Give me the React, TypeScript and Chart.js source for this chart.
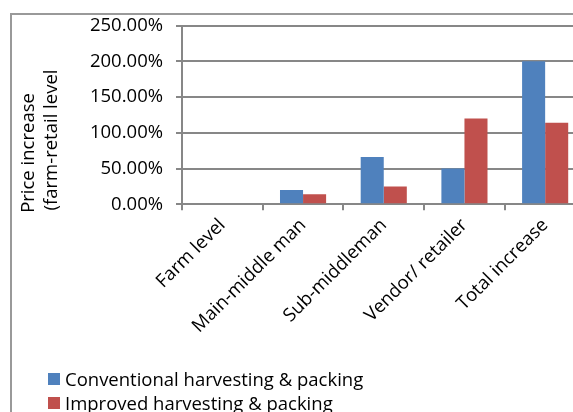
import React, { useEffect, useRef } from "react";
import { Chart, registerables } from "chart.js";

Chart.register(...registerables);

const categories = ["Farm level", "Main-middle man", "Sub-middleman", "Vendor/ retailer", "Total increase"];
const conventional = [0, 20, 66, 50, 200];
const improved = [0, 14, 25, 120, 114];
const seriesNames = ["Conventional harvesting & packing", "Improved harvesting & packing"];
const yTitleLines = ["Price increase", "(farm-retail level"];
const yMin = 0;
const yMax = 250;
const yStep = 50;

const FONT = "'Open Sans', Lato, 'Liberation Sans', sans-serif";
const FONT_SIZE = 18.5;
const BLUE = "#4F81BD";
const RED = "#C0504D";
const GRID = "#878787";
const colors = [BLUE, RED];

const yTitlePlugin = {
  id: "yTitleCustom",
  afterDraw(chart: any) {
    const ctx = chart.ctx;
    ctx.save();
    ctx.font = `${FONT_SIZE}px ${FONT}`;
    ctx.fillStyle = "#000";
    ctx.textAlign = "center";
    ctx.textBaseline = "middle";
    const centers = [
      [29, 153],
      [52, 140],
    ];
    yTitleLines.forEach((line, i) => {
      ctx.save();
      ctx.translate(centers[i][0], centers[i][1]);
      ctx.rotate(-Math.PI / 2);
      ctx.fillText(line, 0, 0);
      ctx.restore();
    });
    ctx.restore();
  },
};

const framePlugin = {
  id: "frameCustom",
  beforeDraw(chart: any) {
    const ctx = chart.ctx;
    ctx.save();
    ctx.strokeStyle = "#999";
    ctx.lineWidth = 2;
    ctx.beginPath();
    ctx.moveTo(11, chart.height + 5);
    ctx.lineTo(11, 14);
    ctx.lineTo(chart.width + 5, 14);
    ctx.stroke();
    ctx.restore();
  },
};

export default function App() {
  const ref = useRef<HTMLCanvasElement | null>(null);

  useEffect(() => {
    const prevOverflow = document.body.style.overflow;
    document.body.style.overflow = "hidden";
    if (!ref.current) return;
    const chart = new Chart(ref.current, {
      type: "bar",
      data: {
        labels: categories,
        datasets: [
          {
            label: seriesNames[0],
            data: conventional,
            backgroundColor: BLUE,
            categoryPercentage: 2 / 3.5,
            barPercentage: 1,
          },
          {
            label: seriesNames[1],
            data: improved,
            backgroundColor: RED,
            categoryPercentage: 2 / 3.5,
            barPercentage: 1,
          },
        ],
      },
      options: {
        responsive: false,
        animation: false,
        devicePixelRatio: 1,
        layout: { padding: { left: 0, top: 25.5, right: 14.5, bottom: 0 } },
        plugins: {
          legend: { display: false },
          tooltip: { enabled: false },
        },
        scales: {
          x: {
            grid: {
              offset: true,
              drawOnChartArea: false,
              drawTicks: true,
              tickLength: 6,
              color: GRID,
              lineWidth: 2,
            },
            border: { color: GRID, width: 2 },
            ticks: {
              autoSkip: false,
              minRotation: 45,
              maxRotation: 45,
              padding: 4,
              color: "#000",
              font: { family: FONT, size: FONT_SIZE },
            },
            afterFit: (s: any) => {
              s.height = 207.7;
            },
          },
          y: {
            min: yMin,
            max: yMax,
            grid: { color: GRID, lineWidth: 2, tickLength: 6 },
            border: { color: GRID, width: 2 },
            ticks: {
              stepSize: yStep,
              padding: 13,
              color: "#000",
              font: { family: FONT, size: FONT_SIZE },
              callback: (v: any) => Number(v).toFixed(2) + "%",
            },
            afterFit: (s: any) => {
              s.width = 182;
            },
          },
        },
      },
      plugins: [framePlugin, yTitlePlugin],
    });
    return () => {
      chart.destroy();
      document.body.style.overflow = prevOverflow;
    };
  }, []);

  return (
    <div
      style={{
        position: "fixed",
        left: 0,
        top: 0,
        right: 0,
        bottom: 0,
        overflow: "hidden",
        background: "#fff",
      }}
    >
      <canvas ref={ref} width={600} height={412} style={{ position: "absolute", left: 0, top: 0 }} />
      <div
        style={{
          position: "absolute",
          left: 48,
          top: 366.5,
          font: `${FONT_SIZE}px ${FONT}`,
          color: "#000",
          whiteSpace: "nowrap",
        }}
      >
        {seriesNames.map((n, i) => (
          <div key={n} style={{ display: "flex", alignItems: "center", height: 24 }}>
            <span style={{ display: "inline-block", width: 12, height: 12, background: colors[i], marginRight: 5 }} />
            <span>{n}</span>
          </div>
        ))}
      </div>
    </div>
  );
}
